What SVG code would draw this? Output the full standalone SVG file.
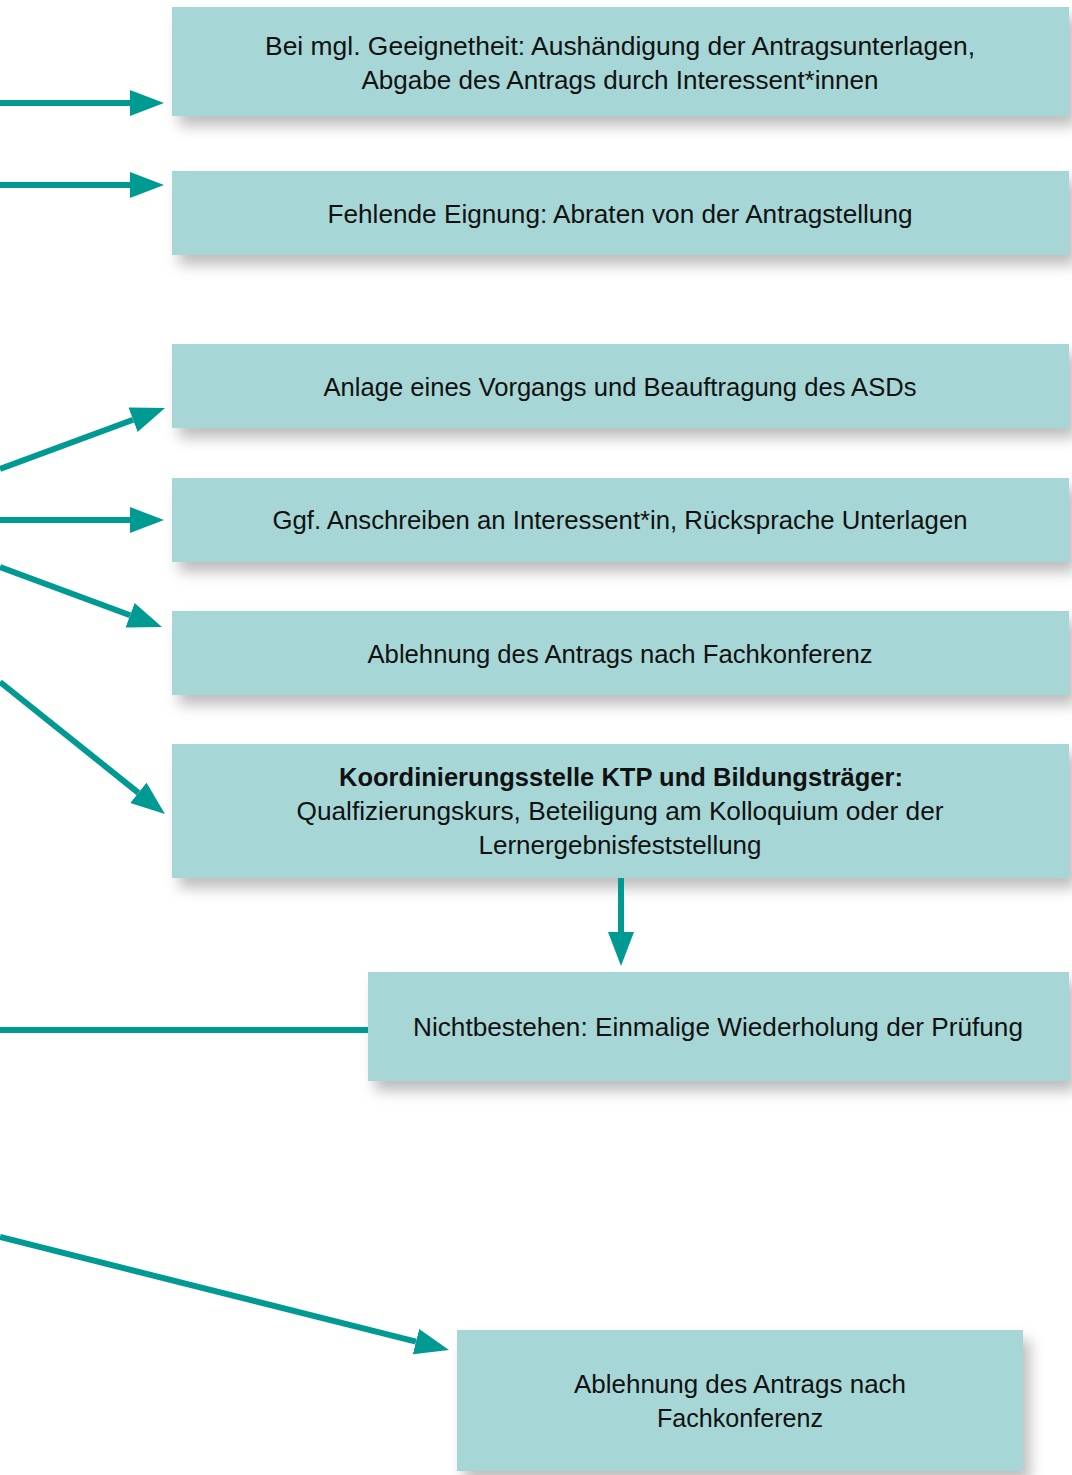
<svg xmlns="http://www.w3.org/2000/svg" width="1072" height="1475" viewBox="0 0 1072 1475">
<style>
.box{fill:#a6d7d6;filter:url(#sh);}
.t{font-family:"Liberation Sans",Arial,sans-serif;font-size:26px;fill:#111;text-anchor:middle;}
.b{font-weight:bold;}
.c{stroke:#009a93;stroke-width:6;fill:none;}
.c.a{marker-end:url(#ah);}
</style>
<defs>
<filter id="sh" x="-10%" y="-20%" width="130%" height="160%">
<feDropShadow dx="7" dy="10" stdDeviation="7" flood-color="#000" flood-opacity="0.26"/>
</filter>
<marker id="ah" markerUnits="userSpaceOnUse" markerWidth="36" markerHeight="28" refX="0" refY="13" orient="auto" viewBox="0 0 36 28">
<path d="M0,0 L34,13 L0,26 Z" fill="#009a93"/>
</marker>
</defs>
<g id="n1"><rect class="box" x="172" y="7" width="897" height="109"/>
<text class="t" x="620" y="55" textLength="710" lengthAdjust="spacingAndGlyphs">Bei mgl. Geeignetheit: Aushändigung der Antragsunterlagen,</text>
<text class="t" x="620" y="89" textLength="517" lengthAdjust="spacingAndGlyphs">Abgabe des Antrags durch Interessent*innen</text></g>
<g id="n2"><rect class="box" x="172" y="171" width="897" height="84"/>
<text class="t" x="620" y="223" textLength="585" lengthAdjust="spacingAndGlyphs">Fehlende Eignung: Abraten von der Antragstellung</text></g>
<g id="n3"><rect class="box" x="172" y="344" width="897" height="84"/>
<text class="t" x="620" y="396" textLength="593" lengthAdjust="spacingAndGlyphs">Anlage eines Vorgangs und Beauftragung des ASDs</text></g>
<g id="n4"><rect class="box" x="172" y="478" width="897" height="84"/>
<text class="t" x="620" y="529" textLength="695" lengthAdjust="spacingAndGlyphs">Ggf. Anschreiben an Interessent*in, Rücksprache Unterlagen</text></g>
<g id="n5"><rect class="box" x="172" y="611" width="897" height="84"/>
<text class="t" x="620" y="663" textLength="505" lengthAdjust="spacingAndGlyphs">Ablehnung des Antrags nach Fachkonferenz</text></g>
<g id="n6"><rect class="box" x="172" y="744" width="897" height="134"/>
<text class="t b" x="621" y="786" textLength="564" lengthAdjust="spacingAndGlyphs">Koordinierungsstelle KTP und Bildungsträger:</text>
<text class="t" x="620" y="820" textLength="647" lengthAdjust="spacingAndGlyphs">Qualfizierungskurs, Beteiligung am Kolloquium oder der</text>
<text class="t" x="620" y="854" textLength="283" lengthAdjust="spacingAndGlyphs">Lernergebnisfeststellung</text></g>
<g id="n7"><rect class="box" x="368" y="972" width="701" height="109"/>
<text class="t" x="718" y="1036" textLength="610" lengthAdjust="spacingAndGlyphs">Nichtbestehen: Einmalige Wiederholung der Prüfung</text></g>
<g id="n8"><rect class="box" x="457" y="1330" width="566" height="141"/>
<text class="t" x="740" y="1393" textLength="332" lengthAdjust="spacingAndGlyphs">Ablehnung des Antrags nach</text>
<text class="t" x="740" y="1427" textLength="166" lengthAdjust="spacingAndGlyphs">Fachkonferenz</text></g>
<g id="connectors">
<line class="c a" x1="0" y1="103" x2="130" y2="103"/>
<line class="c a" x1="0" y1="185" x2="130" y2="185"/>
<line class="c a" x1="0" y1="469" x2="133.1" y2="419.8"/>
<line class="c a" x1="0" y1="520" x2="130" y2="520"/>
<line class="c a" x1="0" y1="567" x2="130.1" y2="615.2"/>
<line class="c a" x1="0" y1="682" x2="138.4" y2="792.8"/>
<line class="c a" x1="621" y1="878" x2="621" y2="932"/>
<line class="c" x1="0" y1="1030" x2="368" y2="1030"/>
<line class="c a" x1="0" y1="1237" x2="416" y2="1341.7"/>
</g>
</svg>
